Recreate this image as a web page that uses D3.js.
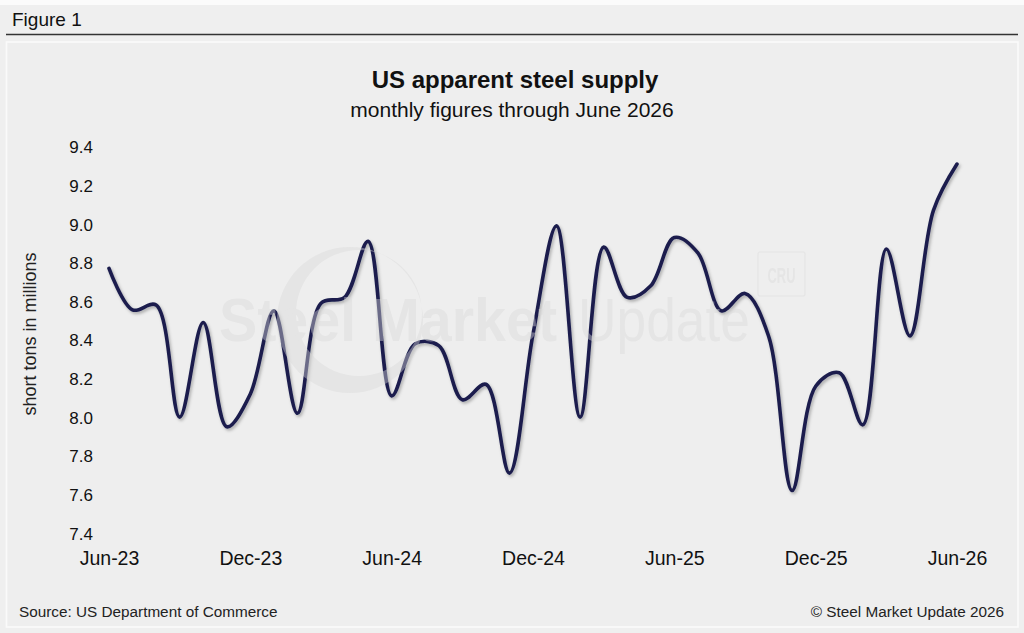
<!DOCTYPE html>
<html>
<head>
<meta charset="utf-8">
<script src="https://cdn.jsdelivr.net/npm/d3@7"></script>
<style>
  html, body { margin: 0; padding: 0; background: #efefef; }
  svg { display: block; font-family: "Liberation Sans", Arial, Helvetica, sans-serif; }
</style>
</head>
<body>
<svg id="chart" width="1024" height="633"></svg>
<script>
// monthly values, Jun-23 .. Jun-26 (millions of short tons)
var supply = [
  8.77, 8.555, 8.58, 8.00, 8.49, 7.95, 8.12,
  8.55, 8.02, 8.59, 8.62, 8.91, 8.11,
  8.38, 8.37, 8.09, 8.17, 7.71, 8.43,
  8.99, 8.00, 8.88, 8.62, 8.68, 8.93,
  8.85, 8.55, 8.64, 8.42, 7.62, 8.16,
  8.23, 7.96, 8.87, 8.42, 9.07, 9.31
];
var fmt = d3.timeFormat("%b-%y");
var months = d3.timeMonth.range(new Date(2023, 5, 1), new Date(2026, 6, 1)).map(fmt);
var xTickLabels = ["Jun-23", "Dec-23", "Jun-24", "Dec-24", "Jun-25", "Dec-25", "Jun-26"];
var yTicks = [7.4, 7.6, 7.8, 8.0, 8.2, 8.4, 8.6, 8.8, 9.0, 9.2, 9.4];

var data = months.map(function(m, i) { return {month: m, value: supply[i]}; });

var svg = d3.select("#chart");
var W = 1024, H = 633;

// page frame
svg.append("rect").attr("width", W).attr("height", 5).attr("fill", "#fbfbfb");
svg.append("text").attr("x", 12).attr("y", 26)
  .attr("font-size", 19).attr("fill", "#111").text("Figure 1");
svg.append("line").attr("x1", 6).attr("x2", 1018).attr("y1", 34.5).attr("y2", 34.5)
  .attr("stroke", "#333").attr("stroke-width", 1.4);
svg.append("rect").attr("x", 6.5).attr("y", 42).attr("width", 1011.5).attr("height", 585)
  .attr("fill", "#eeeeee").attr("stroke", "#fafafa").attr("stroke-width", 1.6);

// titles
svg.append("text").attr("x", 515).attr("y", 88).attr("text-anchor", "middle")
  .attr("font-size", 24).attr("font-weight", "bold").attr("fill", "#111")
  .text("US apparent steel supply");
svg.append("text").attr("x", 512).attr("y", 117).attr("text-anchor", "middle")
  .attr("font-size", 21).attr("fill", "#111")
  .text("monthly figures through June 2026");

// scales
var x = d3.scalePoint().domain(months).range([109, 957]);
var y = d3.scaleLinear().domain([7.4, 9.4]).range([533, 146.7]);

// y axis (labels only)
var yAxis = d3.axisLeft(y).tickValues(yTicks).tickFormat(d3.format(".1f")).tickSize(0).tickPadding(0);
svg.append("g").attr("transform", "translate(93,0)").call(yAxis)
  .call(function(g) {
    g.select(".domain").remove();
    g.selectAll("text").attr("font-size", 17).attr("fill", "#111")
      .attr("font-family", "Liberation Sans, Arial, sans-serif").attr("dy", "0.36em");
  });

// x axis (labels only)
var xAxis = d3.axisBottom(x).tickValues(xTickLabels).tickSize(0).tickPadding(0);
svg.append("g").attr("transform", "translate(0,565)").call(xAxis)
  .call(function(g) {
    g.select(".domain").remove();
    g.selectAll("text").attr("font-size", 19.5).attr("fill", "#111")
      .attr("font-family", "Liberation Sans, Arial, sans-serif").attr("dy", 0);
  });

svg.append("text").attr("transform", "translate(35.5,334) rotate(-90)")
  .attr("text-anchor", "middle").attr("font-size", 18).attr("fill", "#222")
  .text("short tons in millions");

// line with soft shadow
var defs = svg.append("defs");
var f = defs.append("filter").attr("id", "shadow").attr("x", "-5%").attr("y", "-5%")
  .attr("width", "110%").attr("height", "110%");
f.append("feDropShadow").attr("dx", 1.5).attr("dy", 2).attr("stdDeviation", 1.4)
  .attr("flood-color", "#000").attr("flood-opacity", 0.28);

var line = d3.line()
  .x(function(d) { return x(d.month); })
  .y(function(d) { return y(d.value); })
  .curve(d3.curveCatmullRom.alpha(0.5));

svg.append("path").datum(data)
  .attr("d", line).attr("fill", "none")
  .attr("stroke", "#1b1f4e").attr("stroke-width", 3.6)
  .attr("stroke-linecap", "round").attr("stroke-linejoin", "round")
  .attr("filter", "url(#shadow)");

// watermark overlay (sits above the line, like the original)
var wm = svg.append("g").attr("fill", "#d9d9d9").attr("opacity", 0.42);
var ring = d3.path();
ring.moveTo(350 + 73, 320); ring.arc(350, 320, 73, 0, 2 * Math.PI); ring.closePath();
ring.moveTo(359 + 63, 313); ring.arc(359, 313, 63, 0, 2 * Math.PI); ring.closePath();
wm.append("path").attr("fill-rule", "evenodd").attr("d", ring.toString());
wm.append("text").attr("x", 219).attr("y", 341).attr("font-size", 62).attr("font-weight", "bold")
  .attr("textLength", 338).attr("lengthAdjust", "spacingAndGlyphs").text("Steel Market");
wm.append("text").attr("x", 578).attr("y", 341).attr("font-size", 62)
  .attr("textLength", 172).attr("lengthAdjust", "spacingAndGlyphs").text("Update");
wm.append("rect").attr("x", 758).attr("y", 252).attr("width", 47).attr("height", 44).attr("rx", 2)
  .attr("fill", "none").attr("stroke", "#d9d9d9").attr("stroke-width", 1.2);
wm.append("text").attr("x", 781.5).attr("y", 283).attr("text-anchor", "middle")
  .attr("font-size", 22).attr("font-weight", "bold")
  .attr("textLength", 28).attr("lengthAdjust", "spacingAndGlyphs").text("CRU");

// footer
svg.append("text").attr("x", 19).attr("y", 617).attr("font-size", 15.3).attr("fill", "#222")
  .text("Source: US Department of Commerce");
svg.append("text").attr("x", 1004).attr("y", 617).attr("text-anchor", "end")
  .attr("font-size", 15.3).attr("fill", "#222")
  .text("\u00A9 Steel Market Update 2026");
</script>
</body>
</html>
